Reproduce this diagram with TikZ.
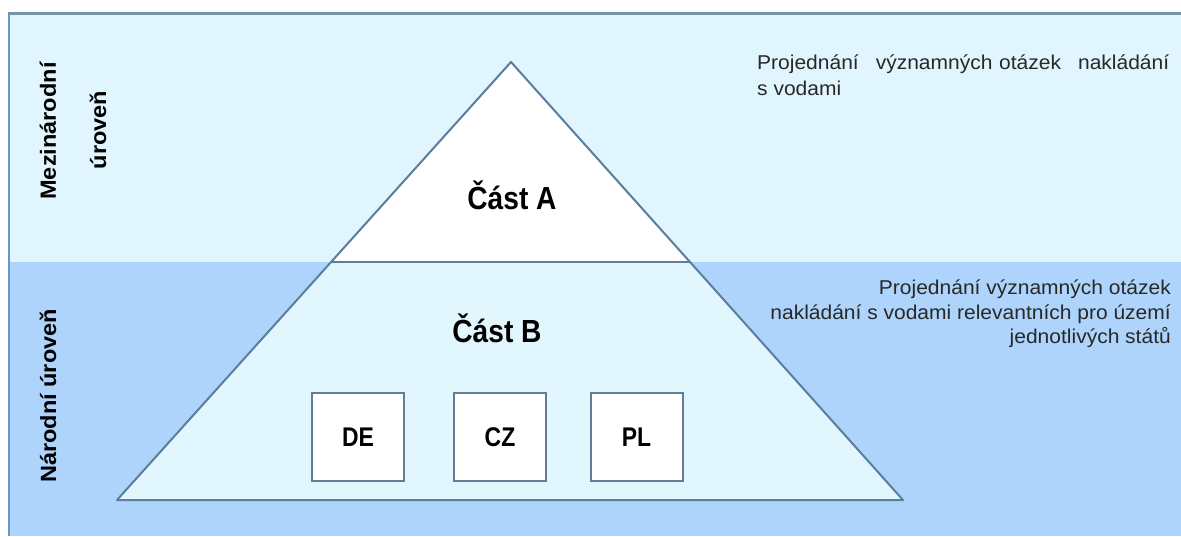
\documentclass[tikz,border=0pt]{standalone}
\usepackage{fontspec}
\setmainfont{Liberation Sans}
\newfontfamily\lblfont{Liberation Sans}[FakeStretch=0.88]
\newfontfamily\boxfont{Liberation Sans}[FakeStretch=0.85]
\newfontfamily\vfont{Liberation Sans}[FakeStretch=1.07]
\newfontfamily\descfont{Liberation Sans}[FakeStretch=1.05]
\definecolor{bandtop}{RGB}{225,245,254}
\definecolor{bandbot}{RGB}{174,212,252}
\definecolor{trifill}{RGB}{226,246,254}
\definecolor{tristroke}{RGB}{90,125,160}
\definecolor{boxstroke}{RGB}{98,125,150}
\definecolor{frametopc}{RGB}{118,150,165}
\definecolor{frameleftc}{RGB}{100,150,200}
\definecolor{desctext}{RGB}{40,40,40}
\tikzset{
  tri/.style={draw=tristroke, line width=2pt, line join=round},
  cbox/.style={draw=boxstroke, fill=white, line width=2pt, minimum width=92pt, minimum height=88pt, inner sep=0pt,
    font=\boxfont\bfseries\fontsize{27}{30}\selectfont},
  partlbl/.style={inner sep=0pt, font=\lblfont\bfseries\fontsize{32}{38}\selectfont},
  vlabel/.style={inner sep=0pt, rotate=90, font=\vfont\bfseries\fontsize{22}{26}\selectfont},
  desc/.style={inner sep=0pt, text=desctext, font=\descfont\fontsize{20}{25}\selectfont}
}
\begin{document}
\begin{tikzpicture}[x=1pt,y=-1pt]
\useasboundingbox (0,0) rectangle (1181,536);
\fill[white] (0,0) rectangle (1181,536);
\fill[bandtop] (9,13) rectangle (1181,262);
\fill[bandbot] (9,262) rectangle (1181,536);
\draw[frametopc, line width=3pt] (7.5,13) -- (1181,13);
\draw[frameleftc, line width=2.5pt] (9,13) -- (9,536);

\coordinate (apex) at (511,62);
\coordinate (bl) at (117,500);
\coordinate (br) at (903,500);
\coordinate (ml) at (331,262);
\coordinate (mr) at (691,262);
\fill[white] (apex) -- (ml) -- (mr) -- cycle;
\fill[trifill] (ml) -- (bl) -- (br) -- (mr) -- cycle;
\draw[tri] (apex) -- (bl) -- (br) -- cycle;
\draw[tri] (ml) -- (mr);

\node[partlbl] (casta) at (512,195) {Část A};
\node[partlbl] (castb) at (497,328) {Část B};

\node[cbox] (de) at (358,437) {DE};
\node[cbox] (cz) at (500,437) {CZ};
\node[cbox] (pl) at (636.5,437) {PL};

\node[vlabel] (mez) at (48,131) {Mezinárodní};
\node[vlabel] (uro) at (98,130) {úroveň};
\node[vlabel] (nar) at (48,396) {Národní úroveň};

\node[desc, anchor=base west, text width=412pt] (d1a) at (757,69) {Projednání\hfill významných otázek\hfill nakládání};
\node[desc, anchor=base west] (d1b) at (757,95) {s vodami};

\node[desc, anchor=base east] (d2a) at (1171,294) {Projednání významných otázek};
\node[desc, anchor=base east] (d2b) at (1171,319) {nakládání s vodami relevantních pro území};
\node[desc, anchor=base east] (d2c) at (1171,343) {jednotlivých států};
\end{tikzpicture}
\end{document}
